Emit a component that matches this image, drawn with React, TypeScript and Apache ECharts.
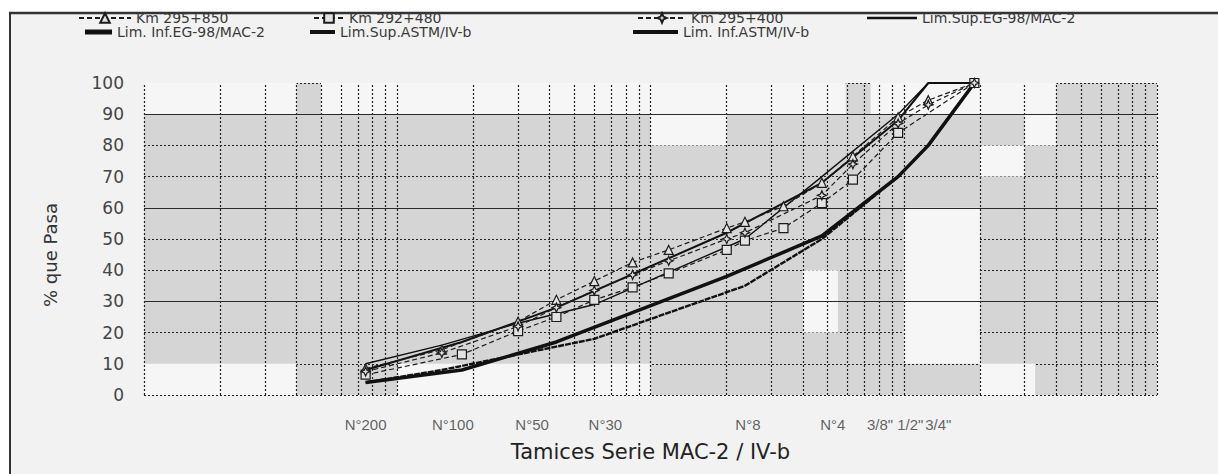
import React, { useEffect, useRef } from 'react';
import * as echarts from 'echarts';

// ---- Data (sieve opening in mm, % passing) ----
const sieveNames = ['N°200', 'N°100', 'N°50', 'N°30', 'N°8', 'N°4', '3/8"', '1/2"', '3/4"'];
const sieveSizes = [0.075, 0.15, 0.3, 0.6, 2.36, 4.75, 9.5, 12.5, 19];

const km295850Sizes = [0.075, 0.15, 0.3, 0.425, 0.6, 0.85, 1.18, 2.0, 2.36, 3.35, 4.75, 6.3, 9.5, 12.5, 19];
const km295850Pass = [8.5, 14.5, 23.5, 30.5, 36.5, 42.5, 46.5, 53.5, 55.5, 60.5, 68, 76.5, 89, 94.5, 100];

const km292480Sizes = [0.075, 0.18, 0.3, 0.425, 0.6, 0.85, 1.18, 2.0, 2.36, 3.35, 4.75, 6.3, 9.5, 19];
const km292480Pass = [6.5, 13, 20.5, 25, 30.5, 34.5, 39, 46.5, 49.5, 53.5, 61.5, 69, 84, 100];

const km295400Sizes = [0.075, 0.15, 0.3, 0.425, 0.6, 0.85, 1.18, 2.0, 2.36, 4.75, 6.3, 9.5, 12.5, 19];
const km295400Pass = [7.5, 13.5, 22, 28, 33.5, 38.5, 43, 50, 52, 64, 74, 87, 93, 100];

const egSizes = [0.075, 0.18, 0.425, 2.0, 4.75, 9.5, 12.5, 19];
const egSup = [8, 17, 28, 52, 68, 88, 100, 100];
const egInf = [4, 8, 17, 38, 51, 70, 80, 100];

const astmSizes = [0.075, 0.15, 0.3, 0.6, 2.36, 4.75, 9.5, 12.5, 19];
const astmSup = [10, 16, 23, 29, 50, 70, 90, 100, 100];
const astmInf = [4, 8, 13, 18, 35, 50, 70, 80, 100];

const yTicks = [0, 10, 20, 30, 40, 50, 60, 70, 80, 90, 100];

// ---- Styling helpers ----
const FONT = 'DejaVu Sans';
const INK = '#1c1c1c';
const labelDx = [0, 11, 14, 11, 3, 11, -18, -18, -36];

const decades = [0.01, 0.1, 1, 10];
const xGrid: number[] = [];
decades.forEach((d) => {
  for (let m = 1; m <= 9; m++) xGrid.push(parseFloat((d * m).toPrecision(6)));
});
xGrid.push(100);

const whiteBlocks: [number, number, number, number][] = [
  [0.01, 90, 0.04, 100],
  [0.05, 90, 5.9, 100],
  [7.4, 90, 40, 100],
  [0.01, 0, 0.04, 10],
  [0.1, 0, 1, 10],
  [10, 10, 20, 60],
  [20, 70, 30, 80],
  [30, 80, 40, 100],
  [1, 80, 2, 90],
  [4, 20, 5.5, 40],
  [20, 0, 33, 10],
];

const zip = (xs: number[], ys: number[]) => xs.map((x, i) => [x, ys[i]]);

const starPath = 'path://M0,-10 L3,-3 L10,0 L3,3 L0,10 L-3,3 L-10,0 L-3,-3 Z';

function dataSeries(name: string, xs: number[], ys: number[], symbol: string) {
  return {
    name,
    type: 'line',
    data: zip(xs, ys),
    symbol,
    symbolSize: 9,
    showAllSymbol: true,
    lineStyle: { type: [5, 3], width: 1.2, color: INK },
    itemStyle: { color: '#e2e2e2', borderColor: INK, borderWidth: 1.2 },
    z: 6,
  };
}

function limitSeries(name: string, xs: number[], ys: number[], width: number, type: any = 'solid') {
  return {
    name,
    type: 'line',
    data: zip(xs, ys),
    symbol: 'none',
    lineStyle: { type, width, color: '#111' },
    itemStyle: { color: '#111' },
    z: 5,
  };
}

function legendAt(name: string, left: number, rowY: number, itemWidth: number, barHeight?: number) {
  return {
    data: barHeight ? [{ name, icon: 'rect' }] : [name],
    left,
    top: rowY - 7,
    itemWidth,
    itemHeight: barHeight ?? 12,
    padding: 0,
    selectedMode: false,
    textStyle: { fontFamily: FONT, fontSize: 14, color: '#3a3a3a' },
  };
}

export default function App() {
  const ref = useRef<HTMLDivElement>(null);

  useEffect(() => {
    document.body.style.margin = '0';
    const chart = echarts.init(ref.current!, null, { renderer: 'svg' });

    const option: any = {
      animation: false,
      backgroundColor: '#f2f2f2',
      graphic: [
        { type: 'rect', shape: { x: 0, y: 0, width: 1218, height: 12 }, style: { fill: '#ffffff' }, silent: true },
        { type: 'rect', shape: { x: 0, y: 0, width: 9, height: 474 }, style: { fill: '#ffffff' }, silent: true },
        { type: 'line', shape: { x1: 9, y1: 13, x2: 1218, y2: 13 }, style: { stroke: '#333', lineWidth: 2.5 }, silent: true },
        { type: 'line', shape: { x1: 10, y1: 12, x2: 10, y2: 474 }, style: { stroke: '#333', lineWidth: 2 }, silent: true },
        {
          type: 'text',
          x: 50,
          y: 255,
          rotation: Math.PI / 2,
          style: {
            text: '% que Pasa',
            fontFamily: FONT,
            fontSize: 18,
            fill: '#333',
            textAlign: 'center',
            textVerticalAlign: 'middle',
          },
          silent: true,
        },
      ],
      legend: [
        legendAt('Km 295+850', 78, 18, 52),
        legendAt('Km 292+480', 313, 18, 30),
        legendAt('Km 295+400', 637, 18, 48),
        legendAt('Lim.Sup.EG-98/MAC-2', 867, 18, 50, 2.5),
        legendAt('Lim. Inf.EG-98/MAC-2', 85, 32, 27, 5),
        legendAt('Lim.Sup.ASTM/IV-b', 310, 32, 25, 4),
        legendAt('Lim. Inf.ASTM/IV-b', 633, 32, 45, 4),
      ],
      grid: {
        left: 144,
        right: 61,
        top: 83,
        bottom: 79,
        show: true,
        backgroundColor: '#d5d5d5',
        borderWidth: 0,
      },
      xAxis: {
        type: 'log',
        logBase: 10,
        min: 0.01,
        max: 100,
        axisLine: { show: false },
        axisTick: { show: false },
        axisLabel: { show: false },
        splitLine: { show: false },
        name: 'Tamices Serie MAC-2 / IV-b',
        nameLocation: 'middle',
        nameGap: 46,
        nameTextStyle: { fontFamily: FONT, fontSize: 21, color: '#222' },
      },
      yAxis: {
        type: 'value',
        min: 0,
        max: 100,
        interval: 10,
        axisLine: { show: false },
        axisTick: { show: false },
        axisLabel: {
          margin: 20,
          fontFamily: FONT,
          fontSize: 17,
          color: '#444',
          formatter: (v: number) => (yTicks.includes(v) ? String(v) : ''),
        },
        splitLine: { show: true, lineStyle: { type: [2, 2], color: '#222', width: 1.2 } },
      },
      series: [
        {
          name: 'white-blocks',
          type: 'line',
          data: [],
          silent: true,
          z: 1,
          markArea: {
            silent: true,
            itemStyle: { color: '#f6f6f6' },
            data: whiteBlocks.map(([x1, y1, x2, y2]) => [
              { xAxis: x1, yAxis: y1 },
              { xAxis: x2, yAxis: y2 },
            ]),
          },
        },
        {
          name: 'grid-v',
          type: 'line',
          data: [],
          silent: true,
          z: 2,
          markLine: {
            silent: true,
            symbol: ['none', 'none'],
            label: { show: false },
            lineStyle: { type: [2, 2], color: '#222', width: 1.2 },
            data: xGrid.map((v) => ({ xAxis: v })),
          },
        },
        {
          name: 'grid-h',
          type: 'line',
          data: [],
          silent: true,
          z: 2,
          markLine: {
            silent: true,
            symbol: ['none', 'none'],
            label: { show: false },
            lineStyle: { type: 'solid', color: '#2a2a2a', width: 1.2 },
            data: [30, 60, 90].map((v) => ({ yAxis: v })),
          },
        },
        dataSeries('Km 295+850', km295850Sizes, km295850Pass, 'triangle'),
        dataSeries('Km 292+480', km292480Sizes, km292480Pass, 'rect'),
        dataSeries('Km 295+400', km295400Sizes, km295400Pass, starPath),
        limitSeries('Lim.Sup.EG-98/MAC-2', egSizes, egSup, 2),
        limitSeries('Lim. Inf.EG-98/MAC-2', egSizes, egInf, 3.5),
        limitSeries('Lim.Sup.ASTM/IV-b', astmSizes, astmSup, 1.4),
        limitSeries('Lim. Inf.ASTM/IV-b', astmSizes, astmInf, 2.4, [6, 1]),
        {
          name: 'sieve-labels',
          type: 'scatter',
          silent: true,
          clip: false,
          symbolSize: 0,
          z: 7,
          data: sieveSizes.map((s, i) => ({
            value: [s, 0],
            name: sieveNames[i],
            label: { offset: [labelDx[i], 0] },
          })),
          label: {
            show: true,
            position: 'bottom',
            distance: 22,
            formatter: '{b}',
            fontFamily: 'Liberation Sans',
            fontSize: 15,
            color: '#3a3a3a',
          },
        },
      ],
    };

    chart.setOption(option);
    return () => chart.dispose();
  }, []);

  return <div ref={ref} style={{ width: 1218, height: 474 }} />;
}
